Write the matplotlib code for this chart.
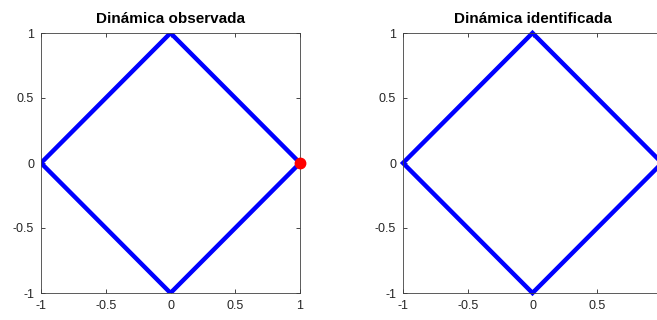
import matplotlib
matplotlib.use("Agg")
import matplotlib.pyplot as plt

plt.rcParams['font.family'] = ['Liberation Sans', 'DejaVu Sans']

titles = ["Dinámica observada", "Dinámica identificada"]
x_obs = [1, 0, -1, 0, 1]
y_obs = [0, 1, 0, -1, 0]
x_id = [1, 0, -1, 0, 1]
y_id = [0, 1, 0, -1, 0]
point_x = [1]
point_y = [0]
ticks = [-1, -0.5, 0, 0.5, 1]
ticklabels = ["-1", "-0.5", "0", "0.5", "1"]
# the right panel's last x label falls outside the picture in the reference
ticklabels_right_x = ["-1", "-0.5", "0", "0.5", ""]

fig = plt.figure(figsize=(6.57, 3.2), dpi=100)
ax1 = fig.add_axes([41/657, 1-293/320, 259/657, 260/320])
ax2 = fig.add_axes([403/657, 1-293/320, 259/657, 260/320])

ax1.plot(x_obs, y_obs, color='#0000ff', lw=3.2, solid_joinstyle='miter', zorder=2)
ax1.plot(point_x, point_y, 'o', color='#ff0000', ms=7.5, zorder=3, clip_on=False)
ax2.plot(x_id, y_id, color='#0000ff', lw=3.2, solid_joinstyle='miter', zorder=2, clip_on=False)

for ax, t, xl in zip([ax1, ax2], titles, [ticklabels, ticklabels_right_x]):
    ax.set_xlim(-1, 1)
    ax.set_ylim(-1, 1)
    ax.set_xticks(ticks)
    ax.set_xticklabels(xl)
    ax.set_yticks(ticks)
    ax.set_yticklabels(ticklabels)
    ax.tick_params(direction='in', length=3, width=0.6, color='#262626',
                   labelcolor='#262626', labelsize=9, top=True, right=True, pad=5)
    for s in ax.spines.values():
        s.set_color('#404040')
        s.set_linewidth(0.6)
    ax.set_title(t, fontsize=11, fontweight='bold', pad=7)

fig.savefig("out.png", dpi=100)
